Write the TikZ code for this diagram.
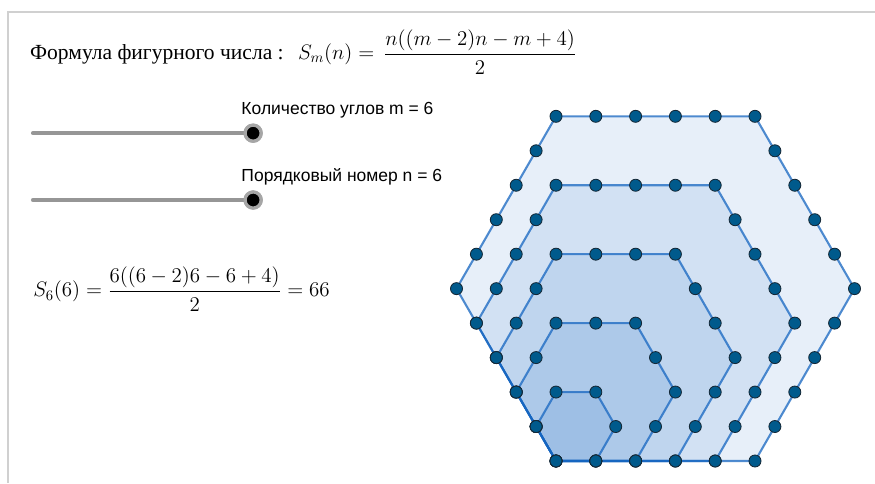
\RequirePackage{fix-cm}
\documentclass[tikz,border=0pt]{standalone}
\usepackage{amsmath, amssymb}
\usepackage{fontspec}
\usepackage{tikz}
\newfontfamily\cyrserif{Liberation Serif}
\newfontfamily\uisans{Liberation Sans}
\definecolor{hexblue}{RGB}{21,101,192}
\definecolor{dotblue}{RGB}{0,90,140}
\definecolor{dotrim}{RGB}{20,40,55}
\definecolor{framegray}{RGB}{208,208,208}
\definecolor{trackgray}{RGB}{150,150,150}

\begin{document}
\begin{tikzpicture}[
  hexdot/.style={circle, fill=dotblue, draw=dotrim, line width=0.6pt, minimum size=8.6pt, inner sep=0pt},
  hexside/.style={draw=hexblue, draw opacity=0.75, line width=1.5pt, fill=hexblue, fill opacity=0.1, line join=round},
  track/.style={trackgray, line width=3pt, line cap=round},
  knob/.style={circle, fill=black, draw=gray!70, line width=2.3pt, minimum size=11.5pt, inner sep=0pt},
  slidertext/.style={font=\uisans\fontsize{12.5}{14}\selectfont, anchor=west, inner sep=0pt},
  mathtext/.style={font=\fontsize{15}{18}\selectfont, anchor=west, inner sep=0pt}]
  \useasboundingbox (0,0) rectangle (21.985,12.136);
  \draw[framegray, line width=1.4pt] (21.985,11.834) -- (0.2,11.834) -- (0.2,0);
  % formula and sliders
  \node[mathtext] (formula) at (0.75,10.83) {{\cyrserif\fontsize{15.4}{17}\selectfont Формула фигурного числа :}\; $S_m(n)=\,\dfrac{n((m-2)n-m+4)}{2}$};
  \coordinate (mstart) at (0.83,8.79);
  \node[knob] (mknob) at (6.36,8.79) {};
  \draw[track] (mstart) -- (mknob);
  \node[knob] at (mknob) {};
  \node[slidertext] (mlabel) at (6.06,9.37) {Количество углов m = 6};
  \coordinate (nstart) at (0.83,7.11);
  \node[knob] (nknob) at (6.36,7.11) {};
  \draw[track] (nstart) -- (nknob);
  \node[knob] at (nknob) {};
  \node[slidertext] (nlabel) at (6.06,7.69) {Порядковый номер n = 6};
  \node[mathtext] (result) at (0.83,4.87) {$S_6(6)=\dfrac{6((6-2)6-6+4)}{2}=66$};
  % nested hexagons
  \coordinate (A) at (13.97,0.553);
  \foreach \k in {5,4,3,2,1} {
    \path (A) coordinate (h\k-0) ++(\k,0) coordinate (h\k-1) ++(60:\k) coordinate (h\k-2)
      ++(120:\k) coordinate (h\k-3) ++(180:\k) coordinate (h\k-4) ++(240:\k) coordinate (h\k-5);
    \path[hexside] (h\k-0) -- (h\k-1) -- (h\k-2) -- (h\k-3) -- (h\k-4) -- (h\k-5) -- cycle;
  }
  \foreach \k in {5,4,3,2,1} {
    \pgfmathtruncatemacro\last{\k-1}
    \foreach \j in {0,...,5}
      \foreach \i in {0,...,\last}
        \node[hexdot] (d\k-\j-\i) at ([shift={(\j*60:\i)}]h\k-\j) {};
  }
\end{tikzpicture}
\end{document}
